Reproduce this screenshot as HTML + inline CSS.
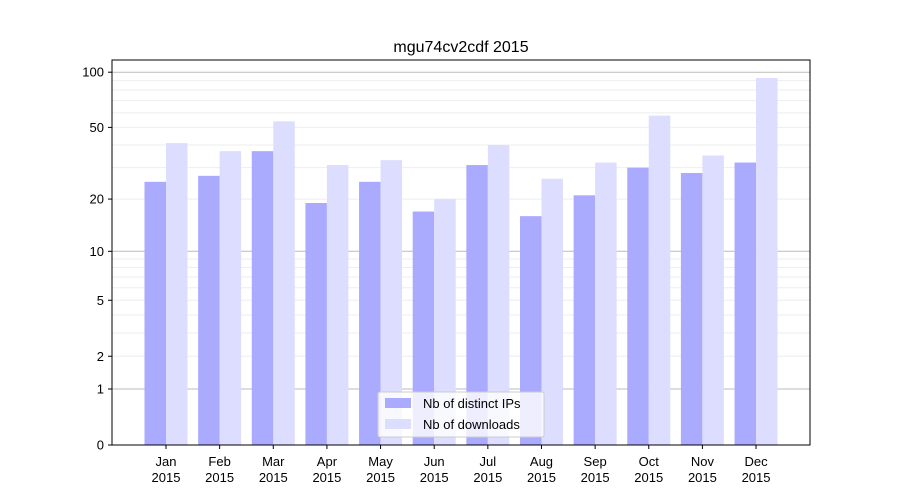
<!DOCTYPE html>
<html><head><meta charset="utf-8"><style>
body{margin:0;background:#fff;font-family:"Liberation Sans","DejaVu Sans",sans-serif}
svg{display:block}
</style></head><body>
<svg id="c" width="900" height="500" xmlns="http://www.w3.org/2000/svg">
<rect width="900" height="500" fill="#fff"/>
<text x="461" y="52" text-anchor="middle" font-size="16">mgu74cv2cdf 2015</text>
<g id="grid"></g>
<g id="bars"></g>
<rect x="112" y="60" width="698" height="385" fill="none" stroke="#000" stroke-width="1"/>
<g id="axes" font-size="13"></g>
<g>
<rect x="378" y="392" width="166" height="45" fill="#fff" fill-opacity="0.8" stroke="#ccc" rx="2"/>
<rect x="385" y="398" width="26" height="10" fill="#aaaaff"/>
<text x="423" y="408" font-size="13">Nb of distinct IPs</text>
<rect x="385" y="419" width="26" height="10" fill="#ddddff"/>
<text x="423" y="429" font-size="13">Nb of downloads</text>
</g>
</svg>
<script>
const months=["Jan","Feb","Mar","Apr","May","Jun","Jul","Aug","Sep","Oct","Nov","Dec"];
const ips=[25,27,37,19,25,17,31,16,21,30,28,32];
const downloads=[41,37,54,31,33,20,40,26,32,58,35,93];
const yTicks=[0,1,2,5,10,20,50,100];
const NS="http://www.w3.org/2000/svg";
function y(v){return 445-186*Math.log10(1+v);}
function x(i){return 166+i*53.64;}
function mk(t,a,p){const e=document.createElementNS(NS,t);for(const k in a)e.setAttribute(k,a[k]);p.appendChild(e);return e;}
const grid=document.getElementById('grid'),bars=document.getElementById('bars'),axes=document.getElementById('axes');
[1,10,100].forEach(d=>{for(let m=1;m<10;m++){const v=d*m;if(y(v)<60)continue;
const l=mk('line',{x1:112,x2:810,y1:y(v),y2:y(v),stroke:m==1?'#bbb':'#eee','stroke-width':1},grid);
}});
months.forEach((m,i)=>{
const w=21.5;
const b1=mk('rect',{x:x(i)-w,y:y(ips[i]),width:w,height:445-y(ips[i]),fill:'#aaaaff'},bars);

const b2=mk('rect',{x:x(i),y:y(downloads[i]),width:w,height:445-y(downloads[i]),fill:'#ddddff'},bars);

const t=mk('line',{x1:x(i),x2:x(i),y1:445,y2:449,stroke:'#000'},axes);

const l1=mk('text',{x:x(i),y:466,'text-anchor':'middle'},axes);l1.textContent=m;

const l2=mk('text',{x:x(i),y:482,'text-anchor':'middle'},axes);l2.textContent='2015';

});
yTicks.forEach(v=>{
const t=mk('line',{x1:108,x2:112,y1:y(v),y2:y(v),stroke:'#000'},axes);

const l=mk('text',{x:104,y:y(v)+4.5,'text-anchor':'end'},axes);l.textContent=v;

});
</script>
</body></html>
